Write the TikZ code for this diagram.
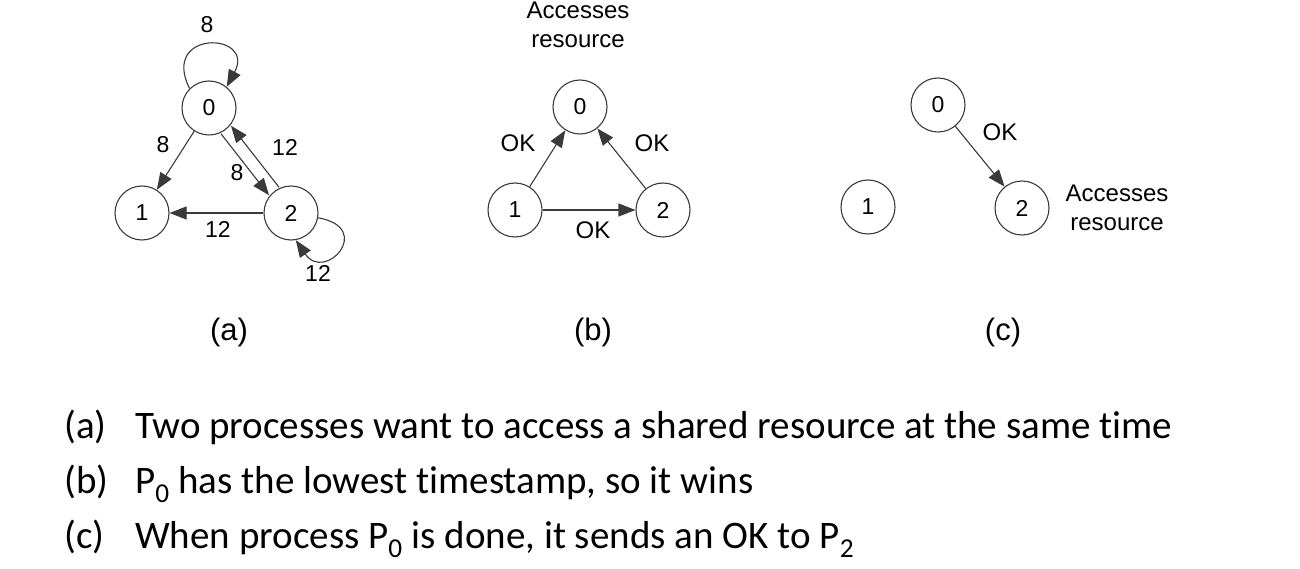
\documentclass[tikz,border=0pt]{standalone}
\usepackage{fontspec}
\setmainfont{Liberation Sans}
\newfontfamily\capfont[Ligatures=NoCommon]{Carlito}
\usetikzlibrary{arrows.meta,calc}
\definecolor{linec}{HTML}{3A3A3A}
\begin{document}
\begin{tikzpicture}[x=1pt,y=1pt,
  proc/.style={circle,draw=linec,line width=1.1pt,minimum size=54pt,inner sep=0pt,font=\fontsize{23}{26}\selectfont},
  arr/.style={draw=linec,line width=1.1pt,-{Triangle[length=17pt,width=13pt]}},
  lab/.style={font=\fontsize{23}{26}\selectfont,inner sep=0pt},
  oklab/.style={font=\fontsize{24}{26}\selectfont,inner sep=0pt},
  acc/.style={font=\fontsize{24}{29}\selectfont,align=center,inner sep=0pt},
  panel/.style={font=\fontsize{31}{34}\selectfont,inner sep=0pt},
  captxt/.style={font=\capfont\fontsize{39}{42}\selectfont,anchor=base west,inner sep=0pt}]
\useasboundingbox (0,0) rectangle (1300,568);
% panel (a)
\node[proc] (a0) at (209,460) {0};
\node[proc] (a1) at (142,355) {1};
\node[proc] (a2) at (291,355) {2};
\draw[arr] (a0) -- (a1);
\draw[arr, transform canvas={shift={(-5,-4)}}] (a0) -- (a2);
\draw[arr, transform canvas={shift={(5,4)}}] (a2) -- (a0);
\draw[arr] (a2) -- (a1);
\draw[arr] (a0.135) .. controls (160,539) and (256,536) .. (a0.50);
\draw[arr] (a2.-10) .. controls (375,340) and (325,285) .. (a2.-80);
\node[lab] (la1) at (207,543) {8};
\node[lab] (la2) at (163,423) {8};
\node[lab] (la3) at (237,395) {8};
\node[lab] (la4) at (285,421) {12};
\node[lab] (la5) at (218,339) {12};
\node[lab] (la6) at (318,295) {12};
\node[panel] (pa) at (229,236) {(a)};
% panel (b)
\node[acc] (accb) at (578,543) {Accesses\\resource};
\node[proc] (b0) at (580,461) {0};
\node[proc] (b1) at (515,358) {1};
\node[proc] (b2) at (663,358) {2};
\draw[arr] (b1) -- (b0);
\draw[arr] (b2) -- (b0);
\draw[arr] (b1) -- (b2);
\node[oklab] (lb1) at (518,425) {OK};
\node[oklab] (lb2) at (652,425) {OK};
\node[oklab] (lb3) at (593,338) {OK};
\node[panel] (pb) at (593,236) {(b)};
% panel (c)
\node[proc] (c0) at (938,463) {0};
\node[proc] (c1) at (868,361) {1};
\node[proc] (c2) at (1022,360) {2};
\draw[arr] (c0) -- (c2);
\node[oklab] (lc1) at (1000,436) {OK};
\node[acc] (accc) at (1117,360) {Accesses\\resource};
\node[panel] (pc) at (1003,236) {(c)};
% captions
\node[captxt] (ka) at (64,130) {(a)};
\node[captxt] (ta) at (135,130) {Two processes want to access a shared resource at the same time};
\node[captxt] (kb) at (64,75) {(b)};
\node[captxt] (tb) at (135,75) {P\textsubscript{0} has the lowest timestamp, so it wins};
\node[captxt] (kc) at (64,20) {(c)};
\node[captxt] (tc) at (135,20) {When process P\textsubscript{0} is done, it sends an OK to P\textsubscript{2}};
\end{tikzpicture}
\end{document}
